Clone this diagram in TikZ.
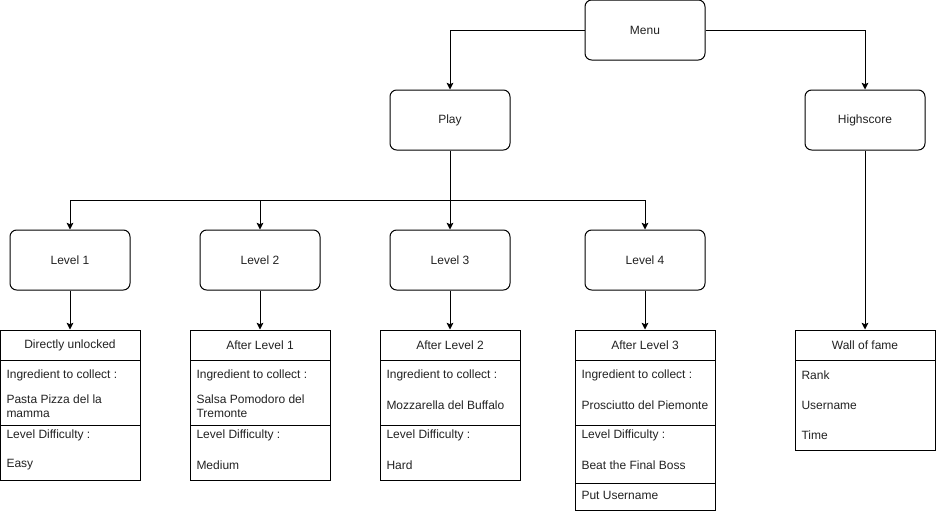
\documentclass[tikz,border=0pt]{standalone}
\usepackage{fontspec}
\setmainfont{Liberation Sans}
\usepackage{xcolor}
\definecolor{inkline}{HTML}{000000}
\definecolor{inktext}{HTML}{222222}
\usetikzlibrary{arrows.meta, positioning}

\begin{document}
\begin{tikzpicture}[
  x=0.75pt, y=-0.75pt,
  font=\fontsize{9}{10.5}\selectfont,
  line width=0.75pt,
  screen/.style={
    draw=inkline, rounded corners=5pt, fill=white, text=inktext,
    minimum width=90pt, minimum height=45pt
  },
  tablehead/.style={
    draw=inkline, fill=white, text=inktext,
    minimum width=105pt, minimum height=22.5pt
  },
  rowtext/.style={anchor=west, inner sep=0pt, text=inktext, align=left},
  flow/.style={-{Stealth[length=5pt, width=5pt, inset=1pt]}, draw=inkline}
]
  \useasboundingbox (0,0) rectangle (936,511);

  % screens
  \node[screen] (menu) at (645,30)  {Menu};
  \node[screen] (play) at (450,120) {Play};
  \node[screen] (hs)   at (865,120) {Highscore};
  \node[screen] (l1)   at (70,260)  {Level 1};
  \node[screen] (l2)   at (260,260) {Level 2};
  \node[screen] (l3)   at (450,260) {Level 3};
  \node[screen] (l4)   at (645,260) {Level 4};

  % level tables
  \node[tablehead] (t1) at (70,345)  {Directly unlocked};
  \node[tablehead] (t2) at (260,345) {After Level 1};
  \node[tablehead] (t3) at (450,345) {After Level 2};
  \node[tablehead] (t4) at (645,345) {After Level 3};
  \node[tablehead] (tw) at (865,345) {Wall of fame};

  \draw[inkline] (0,360) rectangle (140,480);
  \draw[inkline] (190,360) rectangle (330,480);
  \draw[inkline] (380,360) rectangle (520,480);
  \draw[inkline] (575,360) rectangle (715,510);
  \draw[inkline] (795,360) rectangle (935,450);
  \foreach \x in {0,190,380,575}
    \draw[inkline] (\x,425) -- ++(141,0);
  \draw[inkline] (575,483) -- ++(140,0);

  \node[rowtext] (t1a) at (6,375)   {Ingredient to collect :};
  \node[rowtext] (t1b) at (6,406)   {Pasta Pizza del la\\mamma};
  \node[rowtext] (t1c) at (6,435)   {Level Difficulty :};
  \node[rowtext] (t1d) at (6,465)   {Easy};

  \node[rowtext] (t2a) at (196,375) {Ingredient to collect :};
  \node[rowtext] (t2b) at (196,406) {Salsa Pomodoro del\\Tremonte};
  \node[rowtext] (t2c) at (196,435) {Level Difficulty :};
  \node[rowtext] (t2d) at (196,465) {Medium};

  \node[rowtext] (t3a) at (386,375) {Ingredient to collect :};
  \node[rowtext] (t3b) at (386,405) {Mozzarella del Buffalo};
  \node[rowtext] (t3c) at (386,435) {Level Difficulty :};
  \node[rowtext] (t3d) at (386,465) {Hard};

  \node[rowtext] (t4a) at (581,375) {Ingredient to collect :};
  \node[rowtext] (t4b) at (581,405) {Prosciutto del Piemonte};
  \node[rowtext] (t4c) at (581,435) {Level Difficulty :};
  \node[rowtext] (t4d) at (581,465) {Beat the Final Boss};
  \node[rowtext] (t4e) at (581,495) {Put Username};

  \node[rowtext] (twa) at (801,375) {Rank};
  \node[rowtext] (twb) at (801,405) {Username};
  \node[rowtext] (twc) at (801,435) {Time};

  % connectors
  \draw[flow] (menu.west) -| (play.north);
  \draw[flow] (menu.east) -| (hs.north);
  \coordinate (bus) at (450,200);
  \draw[inkline] (play) -- (bus);
  \foreach \lv in {l1,l2,l3,l4}
    \draw[flow] (bus) -| (\lv.north);
  \draw[flow] (l1) -- (t1);
  \draw[flow] (l2) -- (t2);
  \draw[flow] (l3) -- (t3);
  \draw[flow] (l4) -- (t4);
  \draw[flow] (hs) -- (tw);
\end{tikzpicture}
\end{document}
